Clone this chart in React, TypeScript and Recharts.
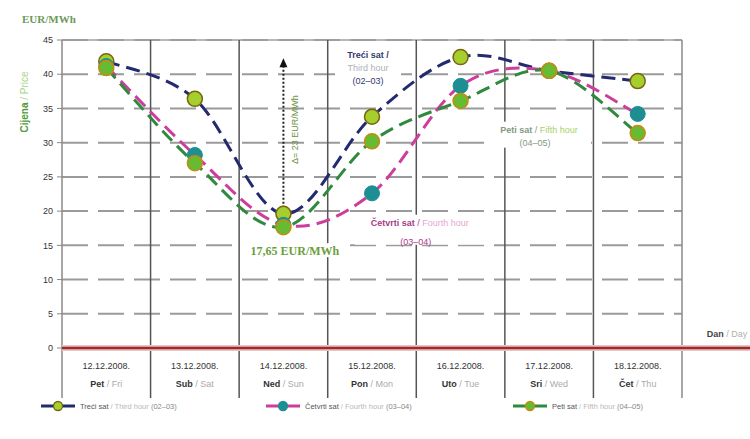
import React from 'react';
import { LineChart, Line, XAxis, YAxis, CartesianGrid, ReferenceLine, ReferenceDot, Legend } from 'recharts';

const dates = ['12.12.2008.', '13.12.2008.', '14.12.2008.', '15.12.2008.', '16.12.2008.', '17.12.2008.', '18.12.2008.'];
const dayHr = ['Pet', 'Sub', 'Ned', 'Pon', 'Uto', 'Sri', 'Čet'];
const dayEn = ['Fri', 'Sat', 'Sun', 'Mon', 'Tue', 'Wed', 'Thu'];
const thirdHour = [41.9, 36.4, 19.6, 33.8, 42.5, 40.5, 39.0];
const fourthHour = [41.2, 28.2, 18.0, 22.6, 38.3, 40.5, 34.2];
const fifthHour = [40.9, 27.0, 17.65, 30.2, 36.1, 40.5, 31.4];
const yTicks = [0, 5, 10, 15, 20, 25, 30, 35, 40, 45];
const dayBoundaries = [-0.5, 0.5, 1.5, 2.5, 3.5, 4.5, 5.5, 6.5];
const seriesNames = [
  { hr: 'Treći sat', en: 'Third hour', hrs: '(02–03)' },
  { hr: 'Četvrti sat', en: 'Fourth hour', hrs: '(03–04)' },
  { hr: 'Peti sat', en: 'Fifth hour', hrs: '(04–05)' },
];
const minLabel = '17,65 EUR/MWh';
const deltaLabel = 'Δ= 23 EUR/MWh';

const data = dates.map((d, i) => ({
  idx: i,
  third: thirdHour[i],
  fourth: fourthHour[i],
  fifth: fifthHour[i],
}));
const xTicks = data.map((d) => d.idx);

const FONT = '"Liberation Sans", Arial, sans-serif';
const SERIF = '"Liberation Serif", "DejaVu Serif", serif';

const C3 = '#232a6e';
const C4 = '#cc3d9c';
const C5 = '#2f8a3e';
const styles = [
  { line: C3, fill: '#a5cf2c', stroke: '#7a6410', hrColor: '#333a70', enColor: '#b0b0b8' },
  { line: C4, fill: '#1d8f92', stroke: '#1d8f92', hrColor: '#a63c86', enColor: '#e6a6d2' },
  { line: C5, fill: '#66bb33', stroke: '#c98a10', hrColor: '#7f9a7f', enColor: '#a6d36a' },
];

// Catmull-Rom style smoothing (Excel-like smoothed line)
const smoothCurve: any = (context: any) => {
  let pts: [number, number][] = [];
  return {
    areaStart() {},
    areaEnd() {},
    lineStart() {
      pts = [];
    },
    lineEnd() {
      if (!pts.length) return;
      context.moveTo(pts[0][0], pts[0][1]);
      for (let i = 0; i < pts.length - 1; i++) {
        const p0 = pts[i - 1] || pts[i];
        const p1 = pts[i];
        const p2 = pts[i + 1];
        const p3 = pts[i + 2] || p2;
        context.bezierCurveTo(
          p1[0] + (p2[0] - p0[0]) / 6,
          p1[1] + (p2[1] - p0[1]) / 6,
          p2[0] - (p3[0] - p1[0]) / 6,
          p2[1] - (p3[1] - p1[1]) / 6,
          p2[0],
          p2[1]
        );
      }
    },
    point(x: number, y: number) {
      pts.push([+x, +y]);
    },
  };
};

const XTick = (props: any) => {
  const { x, y, payload } = props;
  const i = payload.value;
  return (
    <g fontFamily={FONT} fontSize={9}>
      <text x={x} y={y} dy={21} textAnchor="middle" fill="#333">{dates[i]}</text>
      <text x={x} y={y} dy={39} textAnchor="middle">
        <tspan fill="#333" fontWeight="bold">{dayHr[i]}</tspan>
        <tspan fill="#aaa"> / {dayEn[i]}</tspan>
      </text>
    </g>
  );
};

const YLabel = (props: any) => {
  const vb = props.viewBox || { x: 0, y: 40, width: 62, height: 308 };
  const cx = vb.x + 28;
  const cy = vb.y + 62;
  return (
    <g>
      <text x={vb.x + 22} y={vb.y - 17} fontFamily={SERIF} fontWeight="bold" fontSize={11} fill="#6a9a5a">EUR/MWh</text>
      <text x={cx} y={cy} transform={`rotate(-90 ${cx} ${cy})`} textAnchor="middle" fontFamily={FONT} fontSize={10} fontWeight="bold">
        <tspan fill="#4f9a3a">Cijena</tspan>
        <tspan fill="#a8d48a" fontWeight="normal"> / Price</tspan>
      </text>
    </g>
  );
};

const DayLabel = (props: any) => {
  const vb = props.viewBox;
  const xe = vb.x + vb.width - 3;
  return (
    <text x={xe} y={vb.y - 11} textAnchor="end" fontFamily={FONT} fontSize={9}>
      <tspan fill="#444" fontWeight="bold">Dan</tspan>
      <tspan fill="#b0b0b0"> / Day</tspan>
    </text>
  );
};

const note = (i: number, lines: 'stack' | 'inline', w: number, h: number, gap: number) => (p: any) => {
  const { cx, cy } = p;
  const s = styles[i];
  const n = seriesNames[i];
  if (lines === 'stack') {
    return (
      <g fontFamily={FONT} fontSize={9}>
        <rect x={cx - w / 2} y={cy - h / 2} width={w} height={h} fill="#fff" />
        <text x={cx} y={cy - 10} textAnchor="middle" fill={s.hrColor} fontWeight="bold">{n.hr} /</text>
        <text x={cx} y={cy + 3} textAnchor="middle" fill={s.enColor}>{n.en}</text>
        <text x={cx} y={cy + 16} textAnchor="middle" fill={s.hrColor}>{n.hrs}</text>
      </g>
    );
  }
  return (
    <g fontFamily={FONT} fontSize={9}>
      <rect x={cx - w / 2} y={cy - 8} width={w} height={h} fill="#fff" />
      <text x={cx} y={cy + 3} textAnchor="middle">
        <tspan fill={s.hrColor} fontWeight="bold">{n.hr}</tspan>
        <tspan fill={s.hrColor}> / </tspan>
        <tspan fill={s.enColor}>{n.en}</tspan>
      </text>
      <text x={cx - 4} y={cy + 3 + gap} textAnchor="middle" fill={s.hrColor}>{n.hrs}</text>
    </g>
  );
};

const arrowHead = (p: any) => {
  const { cx, cy } = p;
  return <path d={`M${cx},${cy - 5} L${cx - 4},${cy + 4} L${cx + 4},${cy + 4} Z`} fill="#111" />;
};

const deltaText = (p: any) => {
  const { cx, cy } = p;
  return (
    <text x={cx} y={cy} transform={`rotate(-90 ${cx} ${cy})`} textAnchor="middle" fontFamily={FONT} fontSize={9} fill="#6b9440">
      {deltaLabel}
    </text>
  );
};

const minText = (p: any) => {
  const { cx, cy } = p;
  return (
    <g>
      <rect x={cx - 54} y={cy - 9} width={108} height={14} fill="#fff" />
      <text x={cx} y={cy + 3} textAnchor="middle" fontFamily={SERIF} fontWeight="bold" fontSize={12} fill="#6a9e3a">
        {minLabel}
      </text>
    </g>
  );
};

const legendX = [40, 265, 512];
const LegendContent = () => (
  <div style={{ position: 'relative', width: 750, height: 36, fontFamily: FONT, fontSize: 7.5 }}>
    {seriesNames.map((n, i) => {
      const s = styles[i];
      return (
        <div key={i} style={{ position: 'absolute', left: legendX[i], top: -3, display: 'flex', alignItems: 'center', whiteSpace: 'nowrap' }}>
          <svg width={36} height={12}>
            <line x1={1} y1={6} x2={35} y2={6} stroke={s.line} strokeWidth={3} />
            <circle cx={18} cy={6} r={4.5} fill={s.fill} stroke={s.stroke} strokeWidth={1.3} />
          </svg>
          <span style={{ marginLeft: 4, color: '#555' }}>{n.hr}</span>
          <span style={{ color: '#b8b8b8' }}>&nbsp;/ {n.en}</span>
          <span style={{ color: '#888' }}>&nbsp;{n.hrs}</span>
        </div>
      );
    })}
  </div>
);

export default function App() {
  return (
    <div style={{ position: 'absolute', left: 0, top: 0, width: 750, height: 439, background: '#fff' }}>
      <LineChart width={750} height={439} data={data} margin={{ top: 40, right: 68, left: 0, bottom: 0 }}>
        <CartesianGrid vertical={false} stroke="#9a9a9a" strokeWidth={2} strokeDasharray="26 10" />
        <XAxis
          dataKey="idx"
          type="number"
          domain={[-0.5, 6.5]}
          ticks={xTicks}
          interval={0}
          tick={<XTick />}
          tickLine={false}
          axisLine={false}
          tickSize={0}
          tickMargin={0}
          height={55}
        />
        <YAxis
          domain={[0, 45]}
          ticks={yTicks}
          interval={0}
          width={62}
          tick={{ fontSize: 9, fill: '#333', fontFamily: FONT }}
          tickSize={5}
          tickMargin={4}
          tickLine={{ stroke: '#888' }}
          axisLine={false}
          label={<YLabel />}
        />
        <ReferenceLine y={45} stroke="#a0a0a0" strokeWidth={1.5} />
        {dayBoundaries.map((b) => (
          <ReferenceLine
            key={b}
            segment={[{ x: b, y: 45 }, { x: b, y: -7.3 }]}
            ifOverflow="visible"
            stroke={b === -0.5 || b === 6.5 ? '#8a8a8a' : '#555'}
            strokeWidth={1.5}
          />
        ))}
        <ReferenceLine segment={[{ x: -0.5, y: 0 }, { x: 7.27, y: 0 }]} ifOverflow="visible" stroke="#e9c4c4" strokeWidth={6} />
        <ReferenceLine
          segment={[{ x: -0.5, y: 0 }, { x: 7.27, y: 0 }]}
          ifOverflow="visible"
          stroke="#9e2a2a"
          strokeWidth={2.5}
          label={<DayLabel />}
        />
        <ReferenceDot x={2.955} y={40.9} r={0} ifOverflow="visible" shape={note(0, 'stack', 66, 42, 0)} />
        <ReferenceDot x={3.54} y={18.3} r={0} ifOverflow="visible" shape={note(1, 'inline', 130, 30, 19)} />
        <ReferenceDot x={4.885} y={31.9} r={0} ifOverflow="visible" shape={note(2, 'inline', 104, 26, 13)} />
        <ReferenceLine segment={[{ x: 2, y: 19.9 }, { x: 2, y: 41.3 }]} ifOverflow="visible" stroke="#222" strokeWidth={2} strokeDasharray="2 2" />
        <ReferenceDot x={2} y={41.6} r={0} ifOverflow="visible" shape={arrowHead} />
        <ReferenceDot x={2.16} y={31.9} r={0} ifOverflow="visible" shape={deltaText} />
        <ReferenceDot x={2.13} y={14.0} r={0} ifOverflow="visible" shape={minText} />
        <Line
          dataKey="third"
          type={smoothCurve}
          stroke={C3}
          strokeWidth={3}
          strokeDasharray="14 7"
          dot={{ r: 7.5, fill: styles[0].fill, stroke: styles[0].stroke, strokeWidth: 1.5, strokeDasharray: '' }}
          isAnimationActive={false}
        />
        <Line
          dataKey="fourth"
          type={smoothCurve}
          stroke={C4}
          strokeWidth={3}
          strokeDasharray="14 7"
          dot={{ r: 7.5, fill: styles[1].fill, stroke: styles[1].stroke, strokeWidth: 1, strokeDasharray: '' }}
          isAnimationActive={false}
        />
        <Line
          dataKey="fifth"
          type={smoothCurve}
          stroke={C5}
          strokeWidth={3}
          strokeDasharray="14 7"
          dot={{ r: 7.5, fill: styles[2].fill, stroke: styles[2].stroke, strokeWidth: 1.5, strokeDasharray: '' }}
          isAnimationActive={false}
        />
        <Legend verticalAlign="bottom" height={36} wrapperStyle={{ left: 0, width: 750 }} content={<LegendContent />} />
      </LineChart>
    </div>
  );
}
